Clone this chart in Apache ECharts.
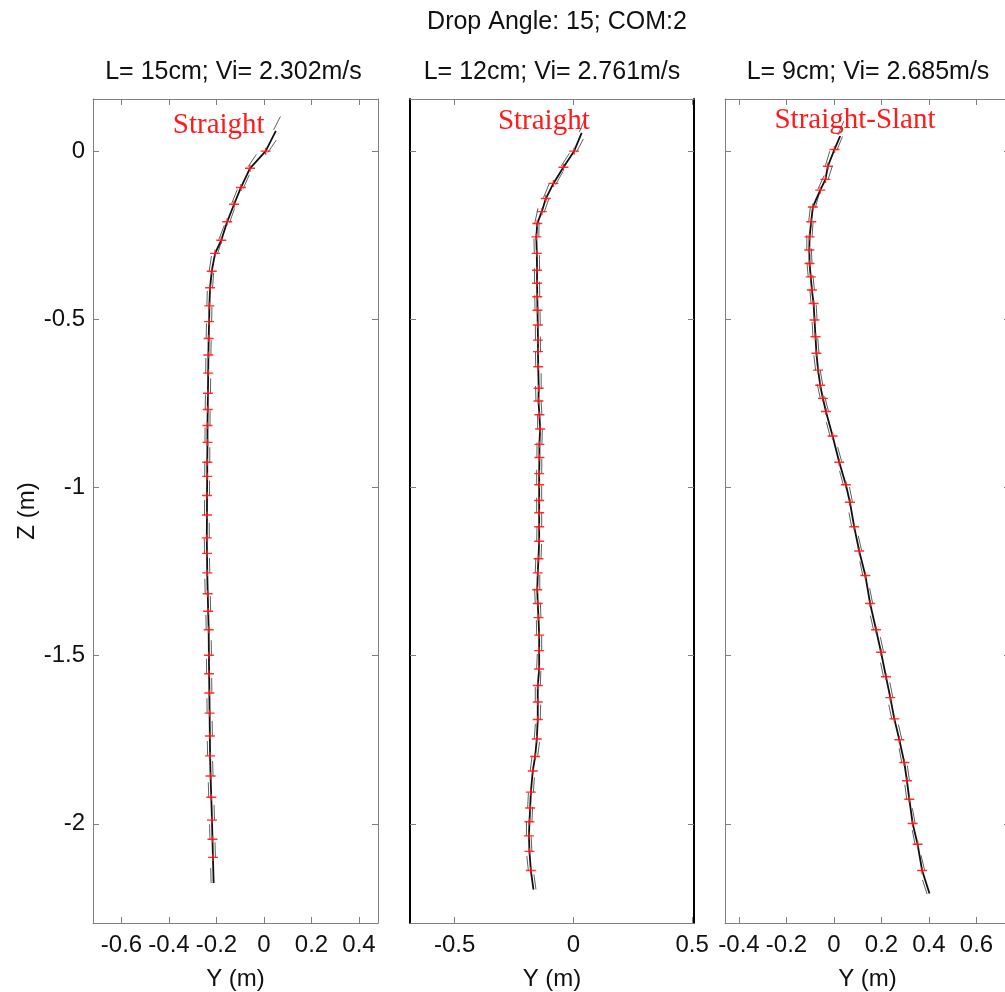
<!DOCTYPE html>
<html>
<head>
<meta charset="utf-8">
<script src="https://cdn.jsdelivr.net/npm/echarts@6/dist/echarts.min.js"></script>
<style>html,body{margin:0;padding:0;background:#fff;}#c{width:1005px;height:992px;}</style>
</head>
<body>
<div id="c"></div>
<script>
// ---- data (Y = lateral position m, Z = depth m) ----
const mainTitle = 'Drop Angle: 15; COM:2';
const panelTitles = ['L= 15cm; Vi= 2.302m/s', 'L= 12cm; Vi= 2.761m/s', 'L= 9cm; Vi= 2.685m/s'];
const panelTags = ['Straight', 'Straight', 'Straight-Slant'];

const p1Z = [0.06, 0.0, -0.051, -0.108, -0.158, -0.21, -0.265, -0.304, -0.357, -0.406, -0.46, -0.507, -0.557, -0.606, -0.66, -0.72, -0.768, -0.816, -0.866, -0.925, -0.967, -1.024, -1.082, -1.150, -1.196, -1.254, -1.316, -1.368, -1.423, -1.499, -1.554, -1.611, -1.671, -1.739, -1.798, -1.858, -1.921, -1.989, -2.046, -2.100, -2.176];
const p1Y = [0.05, 0.007, -0.059, -0.097, -0.126, -0.155, -0.18, -0.206, -0.22, -0.227, -0.23, -0.231, -0.233, -0.234, -0.235, -0.236, -0.237, -0.238, -0.238, -0.239, -0.239, -0.240, -0.240, -0.241, -0.240, -0.239, -0.237, -0.235, -0.233, -0.232, -0.231, -0.230, -0.229, -0.228, -0.227, -0.225, -0.222, -0.219, -0.217, -0.215, -0.212];

const p2Z = [0.054, 0, -0.048, -0.096, -0.141, -0.18, -0.215, -0.255, -0.304, -0.354, -0.393, -0.433, -0.473, -0.517, -0.562, -0.596, -0.641, -0.705, -0.743, -0.784, -0.826, -0.872, -0.911, -0.959, -0.992, -1.039, -1.075, -1.117, -1.160, -1.212, -1.254, -1.304, -1.345, -1.387, -1.439, -1.485, -1.540, -1.589, -1.638, -1.690, -1.748, -1.800, -1.843, -1.906, -1.953, -1.994, -2.036, -2.082, -2.139, -2.196];
const p2Y = [0.035, 0.003, -0.042, -0.084, -0.116, -0.133, -0.152, -0.156, -0.154, -0.153, -0.153, -0.152, -0.151, -0.150, -0.149, -0.149, -0.148, -0.146, -0.147, -0.143, -0.140, -0.143, -0.143, -0.144, -0.144, -0.144, -0.144, -0.144, -0.144, -0.147, -0.150, -0.152, -0.150, -0.147, -0.144, -0.144, -0.144, -0.150, -0.150, -0.150, -0.154, -0.161, -0.171, -0.179, -0.182, -0.185, -0.187, -0.185, -0.179, -0.168];

const p3Z = [0.045, 0.005, -0.045, -0.084, -0.116, -0.166, -0.21, -0.255, -0.294, -0.334, -0.374, -0.413, -0.453, -0.502, -0.552, -0.601, -0.651, -0.696, -0.735, -0.774, -0.847, -0.925, -0.992, -1.044, -1.117, -1.189, -1.262, -1.345, -1.423, -1.490, -1.563, -1.625, -1.688, -1.750, -1.818, -1.872, -1.927, -1.999, -2.061, -2.139, -2.207];
const p3Y = [0.026, 0.002, -0.026, -0.036, -0.058, -0.089, -0.096, -0.103, -0.104, -0.103, -0.098, -0.093, -0.086, -0.082, -0.078, -0.074, -0.067, -0.058, -0.047, -0.034, -0.006, 0.022, 0.050, 0.067, 0.085, 0.106, 0.132, 0.152, 0.177, 0.198, 0.219, 0.237, 0.254, 0.275, 0.296, 0.307, 0.317, 0.331, 0.352, 0.371, 0.402];

const xTicks1 = [-0.6, -0.4, -0.2, 0, 0.2, 0.4];
const xTicks2 = [-0.5, 0, 0.5];
const xTicks3 = [-0.4, -0.2, 0, 0.2, 0.4, 0.6];
const zTicks = [-2, -1.5, -1, -0.5, 0];
const xRanges = [[-0.72, 0.48], [-0.688, 0.508], [-0.459, 0.741]];
const zRange = [-2.295, 0.155];

// ---- layout ----
const grids = [
  {left: 93, top: 99, width: 285, height: 824, outerBoundsMode: 'none', containLabel: false},
  {left: 410, top: 99, width: 284, height: 824, outerBoundsMode: 'none', containLabel: false},
  {left: 725, top: 99, width: 285, height: 824, outerBoundsMode: 'none', containLabel: false}
];
const panels = [[p1Y, p1Z], [p2Y, p2Z], [p3Y, p3Z]];
const xTicks = [xTicks1, xTicks2, xTicks3];
const FONT = '"Liberation Sans", Arial, sans-serif';
const GRAY = '#808080';

const xAxis = [], yAxis = [], series = [];
for (let k = 0; k < 3; k++) {
  const sideCol = k === 1 ? '#000' : GRAY;
  const sideW = k === 1 ? 2 : 1;
  const common = {type: 'value', gridIndex: k, min: xRanges[k][0], max: xRanges[k][1], splitLine: {show: false}};
  xAxis.push(Object.assign({}, common, {
    position: 'bottom',
    name: 'Y (m)', nameLocation: 'middle', nameGap: 44,
    nameTextStyle: {fontFamily: FONT, fontSize: 24, color: '#111'},
    axisLine: {onZero: false, lineStyle: {color: GRAY, width: 1}},
    axisTick: {inside: true, length: 6, lineStyle: {color: GRAY}, customValues: xTicks[k]},
    axisLabel: {margin: 10, fontFamily: FONT, fontSize: 24, color: '#111', customValues: xTicks[k], showMinLabel: true, showMaxLabel: true}
  }));
  xAxis.push(Object.assign({}, common, {
    position: 'top',
    axisLine: {onZero: false, lineStyle: {color: GRAY, width: 1}},
    axisTick: {inside: true, length: 6, lineStyle: {color: GRAY}, customValues: xTicks[k]},
    axisLabel: {show: false}
  }));
  const ycommon = {type: 'value', gridIndex: k, min: zRange[0], max: zRange[1], splitLine: {show: false}};
  yAxis.push(Object.assign({}, ycommon, {
    position: 'left',
    name: k === 0 ? 'Z (m)' : '', nameLocation: 'middle', nameGap: 54,
    nameTextStyle: {fontFamily: FONT, fontSize: 24, color: '#111'},
    axisLine: {onZero: false, lineStyle: {color: sideCol, width: sideW}},
    axisTick: {inside: true, length: 6, lineStyle: {color: GRAY}, customValues: zTicks},
    axisLabel: {show: k === 0, margin: 8, fontFamily: FONT, fontSize: 24, color: '#111', customValues: zTicks}
  }));
  yAxis.push(Object.assign({}, ycommon, {
    position: 'right',
    axisLine: {onZero: false, lineStyle: {color: sideCol, width: sideW}},
    axisTick: {inside: true, length: 6, lineStyle: {color: GRAY}, customValues: zTicks},
    axisLabel: {show: false}
  }));

  const Y = panels[k][0], Z = panels[k][1];
  const pts = Y.map((y, i) => [y, Z[i]]);
  const n = pts.length;
  // orientation segments (derived from local path direction)
  series.push({
    type: 'custom', xAxisIndex: 2 * k, yAxisIndex: 2 * k, silent: true, z: 2,
    data: pts,
    renderItem: function (params, api) {
      const i = params.dataIndex;
      const p = api.coord(pts[i]);
      const a = api.coord(pts[Math.max(i - 1, 0)]);
      const b = api.coord(pts[Math.min(i + 1, n - 1)]);
      let dx = a[0] - b[0], dy = a[1] - b[1];
      const L = Math.hypot(dx, dy) || 1; dx /= L; dy /= L;
      const side = (i % 2 ? 1 : -1) * 2.5;
      const x1 = p[0] - dy * side, y1 = p[1] + dx * side;
      return {type: 'line', shape: {x1: x1, y1: y1, x2: x1 + dx * 15, y2: y1 + dy * 15},
        style: {stroke: '#444', lineWidth: 1, opacity: 0.85}};
    }
  });
  series.push({
    type: 'line', xAxisIndex: 2 * k, yAxisIndex: 2 * k, data: pts, showSymbol: false, silent: true, z: 3,
    lineStyle: {color: '#111', width: 1.8}
  });
  series.push({
    type: 'scatter', xAxisIndex: 2 * k, yAxisIndex: 2 * k, data: pts.slice(1, n - 1), silent: true, z: 4,
    symbol: 'path://M0,3.2h10v1.6h-10z M4.3,0h1.4v8h-1.4z', symbolSize: [10, 7], symbolKeepAspect: false,
    itemStyle: {color: '#ff1a1a', opacity: 0.9}
  });
}

const tagPos = [[218.7, 125], [543.8, 121], [855, 120]];
const titlePos = [[233.5, 72], [552, 72], [868, 72]];
const graphic = [{type: 'text', x: 557, y: 22, style: {text: mainTitle, font: '25px ' + FONT, fill: '#111', textAlign: 'center', textVerticalAlign: 'middle'}}];
for (let k = 0; k < 3; k++) {
  graphic.push({type: 'text', x: titlePos[k][0], y: titlePos[k][1], style: {text: panelTitles[k], font: '25px ' + FONT, fill: '#111', textAlign: 'center', textVerticalAlign: 'middle'}});
  graphic.push({type: 'text', x: tagPos[k][0], y: tagPos[k][1], z: 10, style: {text: panelTags[k], font: '29px "Liberation Serif", "Times New Roman", serif', fill: '#ff1a1a', textAlign: 'center', textVerticalAlign: 'middle'}});
}

const chart = echarts.init(document.getElementById('c'), null, {renderer: 'canvas'});
chart.setOption({
  backgroundColor: '#fff',
  animation: false,
  grid: grids,
  xAxis: xAxis,
  yAxis: yAxis,
  series: series,
  graphic: graphic
});
</script>
</body>
</html>
